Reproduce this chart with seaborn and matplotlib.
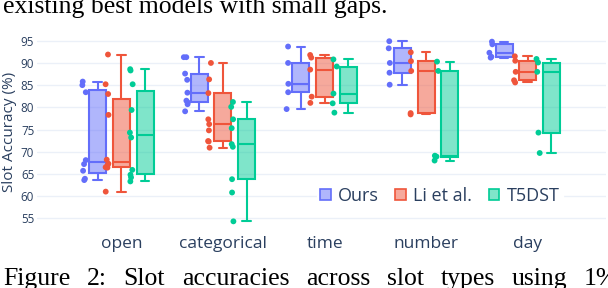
import matplotlib
matplotlib.use("Agg")
import matplotlib.pyplot as plt
import numpy as np
import pandas as pd
import seaborn as sns
from matplotlib.colors import to_rgba
from matplotlib.patches import Patch

# slot accuracy values (%), one list per model and slot type
CATEGORIES = ["open", "categorical", "time", "number", "day"]
MODELS = ["Ours", "Li et al.", "T5DST"]
COLORS = ["#636efa", "#ef553b", "#00cc96"]

ours_open = [63.6, 63.9, 65.7, 67.2, 68.1, 83.4, 85.0, 85.8]
ours_categorical = [79.1, 80.7, 81.1, 81.5, 83.3, 86.2, 87.6, 91.3, 91.3]
ours_time = [79.6, 83.4, 85.3, 90.0, 93.7]
ours_number = [85.1, 87.8, 90.0, 93.3, 94.9]
ours_day = [91.2, 91.4, 92.3, 94.2, 94.8]

li_open = [61.0, 66.4, 66.5, 66.9, 67.3, 68.2, 78.3, 83.0, 85.2, 91.9]
li_categorical = [70.9, 72.3, 72.4, 74.8, 76.2, 77.3, 83.2, 86.3, 90.0]
li_time = [81.0, 82.4, 88.5, 91.2, 91.8]
li_number = [78.4, 78.7, 88.2, 90.4, 92.4]
li_day = [85.6, 86.1, 88.0, 90.5, 91.5]

t5_open = [63.3, 64.2, 64.8, 65.9, 73.2, 74.3, 79.4, 85.2, 88.3, 88.6]
t5_categorical = [54.3, 60.8, 63.8, 71.1, 71.7, 75.3, 77.3, 80.1, 81.2]
t5_time = [78.8, 80.9, 83.1, 89.2, 90.8]
t5_number = [68.0, 68.9, 69.1, 88.2, 90.3]
t5_day = [69.7, 74.3, 88.0, 90.1, 90.9]

Y_TICKS = [55, 60, 65, 70, 75, 80, 85, 90, 95]

TOP_LINE = "existing best models with small gaps."
CAPTION = "Figure 2: Slot accuracies across slot types using 1%"

series = {
    "Ours": [ours_open, ours_categorical, ours_time, ours_number, ours_day],
    "Li et al.": [li_open, li_categorical, li_time, li_number, li_day],
    "T5DST": [t5_open, t5_categorical, t5_time, t5_number, t5_day],
}
rows = []
for model, groups in series.items():
    for cat, vals in zip(CATEGORIES, groups):
        rows += [{"slot": cat, "model": model, "acc": v} for v in vals]
df = pd.DataFrame(rows)

TEXT = "#2a3f5f"
GRID = "#ebf0f8"

sns.set_theme(style="white")
plt.rcParams["font.family"] = ["Open Sans", "DejaVu Sans"]

fig = plt.figure(figsize=(6.08, 2.88), dpi=100)
ax = fig.add_axes([37 / 608, 60 / 288, 569 / 608, 193 / 288])

sns.boxplot(
    data=df, x="slot", y="acc", hue="model", order=CATEGORIES, hue_order=MODELS,
    palette=COLORS, saturation=1, width=0.7, gap=0.28, whis=(0, 100),
    showfliers=False, linewidth=1.5, legend=False, ax=ax,
)
for cont, col in zip(ax.containers, COLORS):
    for box in cont.boxes:
        box.set_facecolor(to_rgba(col, 0.5))
        box.set_edgecolor(col)
    for line in list(cont.whiskers) + list(cont.caps) + list(cont.medians):
        line.set_color(col)
        line.set_linewidth(1.5)

n_before = len(ax.collections)
np.random.seed(3)
sns.stripplot(
    data=df, x="slot", y="acc", hue="model", order=CATEGORIES, hue_order=MODELS,
    palette=COLORS, dodge=True, jitter=0.075, size=4.2, linewidth=0,
    legend=False, ax=ax,
)
# pull the points in line with the boxes and put them just left of each box
for coll in ax.collections[n_before:]:
    offs = coll.get_offsets()
    if len(offs) == 0:
        continue
    base = np.round(offs[:, 0])
    offs[:, 0] = base + (offs[:, 0] - base) * (0.2333 / 0.2667) - 0.134
    coll.set_offsets(offs)

ax.set_xlim(-0.83, 4.77)
ax.set_ylim(52.8, 96.3)
ax.set_yticks(Y_TICKS)
ax.grid(axis="y", color=GRID, linewidth=1)
ax.set_axisbelow(True)
for s in ax.spines.values():
    s.set_visible(False)
ax.tick_params(axis="y", labelsize=8.4, colors=TEXT, pad=2, length=0)
ax.tick_params(axis="x", labelsize=12.5, colors=TEXT, pad=6, length=0)
ax.set_xlabel("")
ax.set_ylabel("Slot Accuracy (%)", fontsize=11, color=TEXT, labelpad=3)

handles = [Patch(facecolor=to_rgba(c, 0.5), edgecolor=c, linewidth=1.2) for c in COLORS]
leg = ax.legend(
    handles, MODELS, ncol=3, loc="center", bbox_to_anchor=(0.708, 0.166),
    frameon=True, fontsize=13, handlelength=0.6, handleheight=0.6,
    handletextpad=0.4, columnspacing=0.9, borderpad=0.2, labelcolor=TEXT,
)
leg.get_frame().set_edgecolor("white")
leg.get_frame().set_facecolor("white")
leg.get_frame().set_alpha(1)

# surrounding paper text (top line and the justified caption line below)
serif = dict(family="Liberation Serif", fontsize=18.5, color="black", va="baseline")
fig.text(3 / 608, 1 - 13 / 288, TOP_LINE, **serif)

renderer = fig.canvas.get_renderer()
words = CAPTION.split(" ")
pieces = [fig.text(0, 1 - 285 / 288, w, **serif) for w in words]
widths = [p.get_window_extent(renderer).width for p in pieces]
left, right = 3, 618
gap = (right - left - sum(widths)) / (len(words) - 1)
xpos = left
for p, w in zip(pieces, widths):
    p.set_x(xpos / 608)
    xpos += w + gap

fig.savefig("out.png", dpi=100)
